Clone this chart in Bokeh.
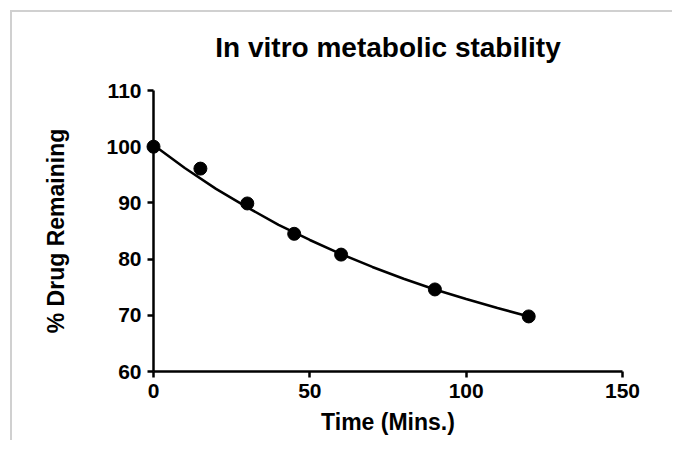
from bokeh.plotting import figure
from bokeh.models import Range1d, FixedTicker
from bokeh.core.properties import value
from bokeh.embed import file_html
from bokeh.resources import INLINE

title_text = "In vitro metabolic stability"
x_label = "Time (Mins.)"
y_label = "% Drug Remaining"

# measured points
time_min = [0, 15, 30, 45, 60, 90, 120]
pct_remaining = [100.0, 96.1, 89.9, 84.5, 80.8, 74.6, 69.8]

# fitted curve
curve_time = [0, 10, 20, 30, 40, 50, 60, 70, 80, 90, 100, 110, 120]
curve_pct = [100.3, 96.2, 92.5, 89.2, 86.1, 83.4, 80.9, 78.6, 76.5, 74.6, 72.9, 71.3, 69.8]

x_ticks = [0, 50, 100, 150]
y_ticks = [60, 70, 80, 90, 100, 110]

FONT = "Liberation Sans"

p = figure(width=662, height=430, output_backend="svg", toolbar_location=None,
           x_range=Range1d(0, 150), y_range=Range1d(60, 110),
           min_border_left=141, min_border_right=52, min_border_top=78, min_border_bottom=71)
p.styles = {"margin-left": "10px", "margin-top": "10px",
            "border-top": "2px solid #d0d0d0", "border-left": "2px solid #d0d0d0"}
p.outline_line_color = None
p.xgrid.visible = False
p.ygrid.visible = False
p.background_fill_color = "white"
p.border_fill_color = "white"

for ax, ticks in ((p.xaxis[0], x_ticks), (p.yaxis[0], y_ticks)):
    ax.ticker = FixedTicker(ticks=ticks)
    ax.axis_line_width = 2.5
    ax.axis_line_color = "black"
    ax.major_tick_line_width = 2.5
    ax.major_tick_line_color = "black"
    ax.major_tick_out = 6
    ax.major_tick_in = 0
    ax.minor_tick_line_color = None
    ax.major_label_text_font = FONT
    ax.major_label_text_font_style = "bold"
    ax.major_label_text_font_size = "21px"
    ax.major_label_text_color = "black"
    ax.axis_label_text_font = FONT
    ax.axis_label_text_font_style = "bold"
    ax.axis_label_text_font_size = "23px"
    ax.axis_label_text_color = "black"

p.xaxis.axis_label = x_label
p.yaxis.axis_label = y_label
p.xaxis.major_label_standoff = 6
p.xaxis.axis_label_standoff = 8
p.yaxis.major_label_standoff = 6
p.yaxis.axis_label_standoff = 34

line = p.line(curve_time, curve_pct, line_color="black", line_width=2.5)
line.level = "overlay"
pts = p.scatter(time_min, pct_remaining, size=13, fill_color="black", line_color="black", marker="circle")
pts.level = "overlay"

ttl = p.text(x=[75], y=[117.7], text=[title_text], text_align="center", text_baseline="alphabetic",
             text_font=value(FONT), text_font_style="bold", text_font_size="28px", text_color="black")
ttl.level = "overlay"

open("out.html", "w").write(file_html(p, INLINE))
